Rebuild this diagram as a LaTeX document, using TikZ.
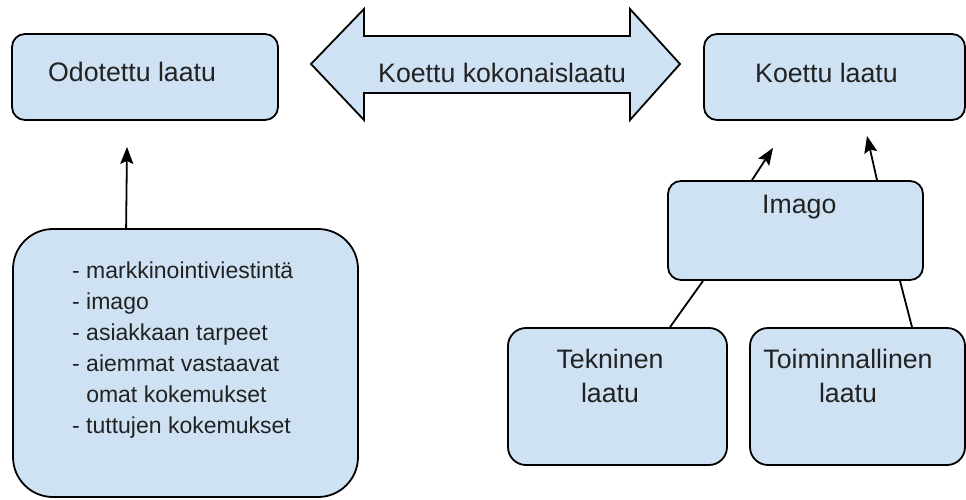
\documentclass[tikz,border=0pt]{standalone}
\usepackage{fontspec}
\setmainfont{Liberation Sans}
\usetikzlibrary{arrows.meta}
\definecolor{boxfill}{HTML}{CFE2F3}
\definecolor{ink}{HTML}{222222}
\begin{document}
\begin{tikzpicture}[x=1pt,y=-1pt,
  box/.style={draw=black, line width=1.8pt, fill=boxfill, rounded corners=#1, inner sep=0pt, rectangle},
  box/.default=13pt,
  lbl/.style={text=ink, font=\fontsize{26.7pt}{34pt}\selectfont, inner sep=0pt},
  arr/.style={line width=1.8pt, -{Stealth[length=17pt,width=13pt,inset=3pt]}},
  conn/.style={line width=1.8pt}]
\useasboundingbox (0,0) rectangle (966,500);

% boxes
\node[box, minimum width=266pt, minimum height=86pt] (odo) at (145,77) {};
\node[box, minimum width=261pt, minimum height=86pt] (koe) at (834.5,77) {};
\node[box=40pt, minimum width=345pt, minimum height=268pt] (list) at (185.5,363) {};
\node[box, minimum width=255pt, minimum height=99pt] (imago) at (795.5,230.5) {};
\node[box=18pt, minimum width=219pt, minimum height=137pt] (tek) at (617.5,396.5) {};
\node[box=18pt, minimum width=215pt, minimum height=137pt] (toi) at (857.5,396.5) {};

% double arrow
\draw[line width=1.8pt, fill=boxfill, line join=miter]
  (311,64) -- (364,9) -- (364,36) -- (630,36) -- (630,9) -- (680,64)
  -- (630,120) -- (630,93) -- (364,93) -- (364,120) -- cycle;

% texts
\node[lbl, anchor=base west] (odot) at (48,82) {Odotettu laatu};
\node[lbl, anchor=base west] (kkt) at (378,83) {Koettu kokonaislaatu};
\node[lbl, anchor=base west] (koet) at (755,83) {Koettu laatu};
\node[lbl, anchor=base west] (imt) at (762,213) {Imago};
\node[lbl, anchor=base, align=center] (tekt) at (610,402) {Tekninen\\laatu};
\node[lbl, anchor=base, align=center] (toit) at (848,402) {Toiminnallinen\\laatu};
\node[lbl, font=\fontsize{23pt}{31pt}\selectfont, anchor=base west, align=left] (listt) at (72,433)
  {- markkinointiviestintä\\- imago\\- asiakkaan tarpeet\\- aiemmat vastaavat\\\phantom{-\ }omat kokemukset\\- tuttujen kokemukset};

% connectors
\draw[arr] ([xshift=114pt]list.north west) -- ([xshift=-18pt,yshift=-26pt]odo.south);
\draw[arr] ([xshift=-43.5pt]imago.north) -- ([xshift=-61.5pt,yshift=-27pt]koe.south);
\draw[arr] ([xshift=81.5pt]imago.north) -- ([xshift=32.5pt,yshift=-15pt]koe.south);
\draw[conn] ([xshift=-92.5pt]imago.south) -- ([xshift=52.5pt]tek.north);
\draw[conn] ([xshift=104.5pt]imago.south) -- ([xshift=54.5pt]toi.north);
\end{tikzpicture}
\end{document}
